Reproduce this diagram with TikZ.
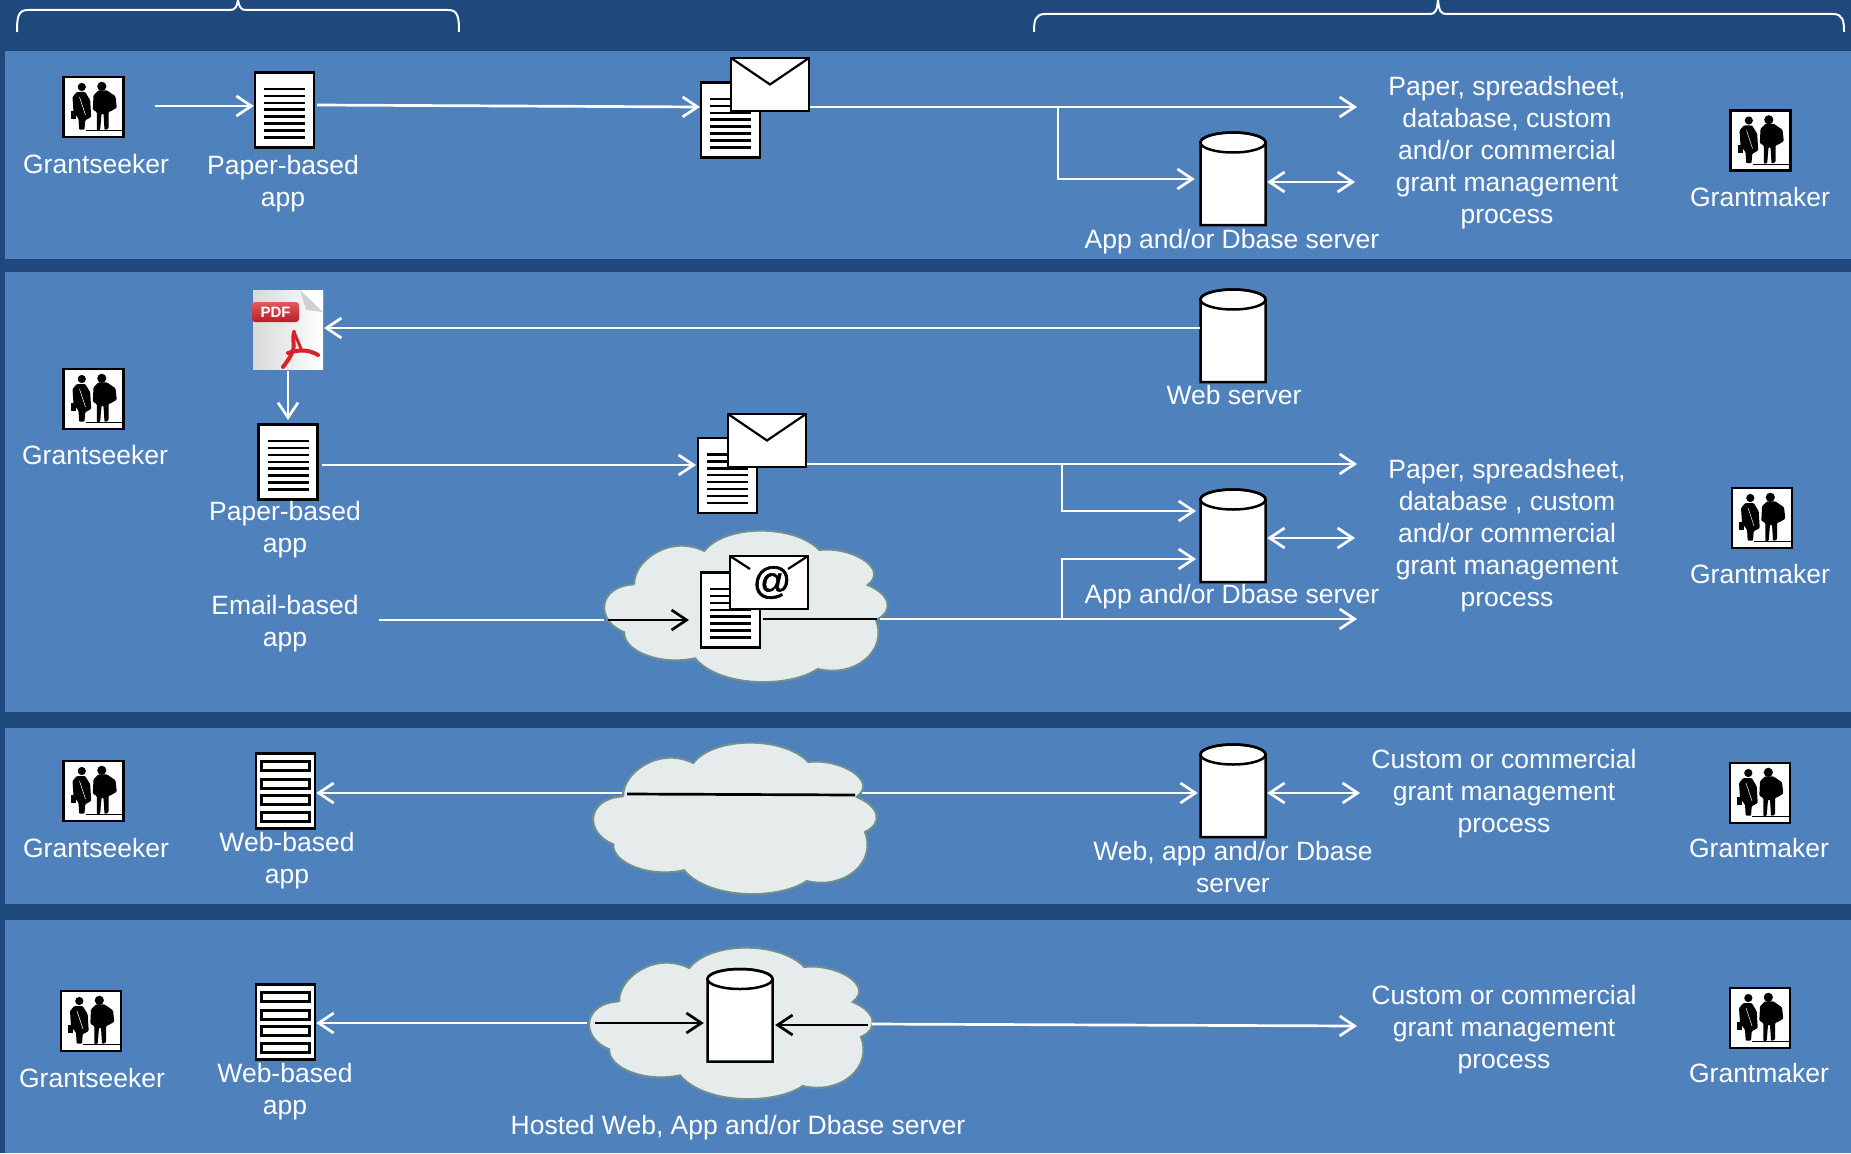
\documentclass[tikz,border=0pt]{standalone}
\usepackage{fontspec}
\setmainfont{Liberation Sans}
\newfontfamily\atfont[FakeBold=1.5]{Liberation Sans}
\usetikzlibrary{arrows.meta}
\definecolor{deepblue}{HTML}{1F497D}
\definecolor{panelblue}{HTML}{4F81BD}
\definecolor{cloudfill}{HTML}{E6EBEB}
\definecolor{cloudedge}{HTML}{6F9090}
\definecolor{pdfred}{HTML}{D8232A}
\tikzset{
  caption/.style={text=white, align=center, inner sep=0pt, font=\fontsize{26.5}{32}\selectfont},
  bracket/.style={draw=white, line width=2},
  flowline/.style={draw=white, line width=2.7, >={Straight Barb[length=15pt,width=20pt]}},
  inkline/.style={draw=black, line width=2.7, >={Straight Barb[length=15pt,width=20pt]}},
  peoplebox/.style={rectangle, draw=black, fill=white, line width=2.5, minimum width=60, minimum height=60, inner sep=0pt},
  paperdoc/.style={rectangle, draw=black, fill=white, line width=2.5, minimum width=59, minimum height=75, inner sep=0pt,
    path picture={\foreach \rowpos in {-21,-14.1,-7.2,-0.3,6.6,13.5,20.4,27.3}
      \draw[line width=2.4] ([shift={(-20.5,\rowpos)}]path picture bounding box.center) -- ++(41,0);}},
  webdoc/.style={rectangle, draw=black, fill=white, line width=2.5, minimum width=59, minimum height=75, inner sep=0pt,
    path picture={\foreach \rowpos in {-25,-7,9,26}
      \draw[line width=2.5] ([shift={(-24,\rowpos-4.5)}]path picture bounding box.center) rectangle ++(48,9);}},
  mailenv/.style={rectangle, draw=black, fill=white, line width=2.5, minimum width=78, minimum height=53, inner sep=0pt,
    path picture={\draw[line width=2.2] (path picture bounding box.north west) -- (path picture bounding box.center) -- (path picture bounding box.north east);}},
  atenv/.style={rectangle, draw=black, fill=white, line width=2.5, minimum width=78, minimum height=53, inner sep=0pt,
    font=\fontsize{38}{38}\selectfont\atfont,
    path picture={\draw[line width=2.2] (path picture bounding box.north west) -- ++(20,13);
      \draw[line width=2.2] (path picture bounding box.north east) -- ++(-20,13);}},
  storedrum/.style={rectangle, minimum width=66, minimum height=94, inner sep=0pt},
  pdfsheet/.style={rectangle, minimum width=70, minimum height=79, inner sep=0pt, left color=black!15, right color=white},
  pdftag/.style={rectangle, rounded corners=3, top color=pdfred!75!white, bottom color=pdfred!85!black, text=white, minimum width=47, minimum height=20, inner sep=0pt,
    font=\fontsize{15}{15}\selectfont\bfseries},
  pics/drum/.style={code={
    \draw[fill=white, line width=2.5] (-32.5,-36.5) -- (-32.5,46) -- (32.5,46) -- (32.5,-36.5) arc[start angle=0, end angle=-180, x radius=32.5, y radius=10] -- cycle;
    \draw[line width=2.5] (0,-36.5) ellipse [x radius=32.5, y radius=10];
  }},
  pics/couple/.style={code={
    \fill[black] (8.3,-20.7) circle (4.6);
    \fill[black] (-11.7,-20) circle (4.1);
    \fill[black, rounded corners=1] (0,-11.7) -- (5,-16.7) -- (13.3,-16.7) -- (22,-10.7) -- (23.3,0.7) -- (17.7,4) -- (15,5) -- (15,21.7) -- (11,23) -- (10,6.7) -- (8,6.7) -- (6.7,22.7) -- (3.3,23.3) -- (3.3,5) -- (-0.7,2.7) -- cycle;
    \fill[black, rounded corners=1] (-16.7,-15) -- (-8.3,-15) -- (-3.3,-6.7) -- (-2.3,10) -- (-8.3,13.3) -- (-9,22.7) -- (-14.3,22.7) -- (-15,11.7) -- (-20,5) -- (-21,-10) -- cycle;
    \fill[black] (-23,4) rectangle (-18,12);
    \draw[white, line width=0.5] (-14,-10) -- (-8,8);
    \draw[black, line width=1] (-8,23.8) -- (29,23.8);
  }},
  pics/cloudblob/.style={code={
    \draw[fill=cloudfill, draw=cloudedge, line width=2] (-110.7,-21.7) .. controls (-112,-45) and (-75,-72) .. (-40.7,-55)
      .. controls (-20,-82) and (50,-82) .. (74.3,-56) .. controls (105,-60) and (145,-38) .. (122.7,-21)
      .. controls (145,-12) and (150,5) .. (131,14) .. controls (143,45) and (110,72) .. (72.7,63)
      .. controls (45,82) and (-25,82) .. (-50,52.3) .. controls (-85,60) and (-122,45) .. (-120.7,26.3)
      .. controls (-150,15) and (-148,-20) .. (-110.7,-21.7);
  }}
}
\begin{document}
\begin{tikzpicture}[x=1pt,y=-1pt]
\useasboundingbox (0,0) rectangle (1851,1153);
\fill[deepblue] (0,0) rectangle (1851,1153);
\fill[panelblue] (5,51) rectangle (1851,259);
\fill[panelblue] (5,272) rectangle (1851,712);
\fill[panelblue] (5,728) rectangle (1851,904);
\fill[panelblue] (5,920) rectangle (1851,1153);
\draw[bracket] (17,32) .. controls (17,17) and (18,10) .. (28,10) -- (230,10) .. controls (235,10) and (237,7) .. (238,0) .. controls (239,7) and (241,10) .. (246,10) -- (448,10) .. controls (458,10) and (459,17) .. (459,32);
\draw[bracket] (1034,32) .. controls (1034,21) and (1035,14) .. (1045,14) -- (1430,14) .. controls (1435,14) and (1437,11) .. (1438,0) .. controls (1439,11) and (1441,14) .. (1446,14) -- (1833,14) .. controls (1843,14) and (1844,21) .. (1844,32);
\pic at (745,606) {cloudblob};
\pic at (734,818) {cloudblob};
\pic at (730,1023) {cloudblob};
\node[peoplebox] (seeker0) at (93.5,107){};
\pic at (seeker0) {couple};
\node[caption] (seekertext0) at (96,164){Grantseeker};
\node[paperdoc] (paper0) at (284.5,110){};
\node[caption] (papertext0) at (283,184){Paper-based\\app};
\node[paperdoc] (maildoc0) at (730.5,120){};
\node[mailenv] (mail0) at (770,84.5){};
\node[storedrum] (store0) at (1233,179){};
\pic at (store0) {drum};
\node[caption] (storetext0) at (1232,242){App and/or Dbase server};
\node[caption] (process0) at (1507,152.5){Paper, spreadsheet,\\database, custom\\and/or commercial\\grant management\\process};
\node[peoplebox] (maker0) at (1760.5,140.5){};
\pic at (maker0) {couple};
\node[caption] (makertext0) at (1760,197){Grantmaker};
\coordinate (start0) at (155,106);
\coordinate (out0) at (317,105);
\coordinate (in0) at (700,107);
\coordinate (end0) at (1357,107);
\coordinate (fork0) at (1058,107);
\coordinate (end1) at (1355,182);
\draw[flowline,->] (start0) -- (paper0.west |- start0);
\draw[flowline,->] (out0) -- (in0);
\draw[flowline,->] (mail0.east |- end0) -- (end0);
\draw[flowline,->,shorten >=5pt] (fork0) |- (store0.180);
\draw[flowline,<->,shorten <=1pt] (store0.0 |- end1) -- (end1);
\node[peoplebox] (seeker1) at (93.5,399){};
\pic at (seeker1) {couple};
\node[caption] (seekertext1) at (95,455){Grantseeker};
\node[pdfsheet] (pdf1) at (288,329.5){};
\fill[white] (300,290) -- (323,290) -- (323,312) -- cycle;
\fill[black!18] (300,290) -- (323,312) -- (306,310) -- cycle;
\node[pdftag] (pdftag1) at (275.5,312){PDF};
\draw[pdfred, line width=4, line cap=round] (294,332) .. controls (291,345) and (300,345) .. (283,367);
\draw[pdfred, line width=4, line cap=round] (288,353) .. controls (300,349) and (310,350) .. (318,355);
\draw[pdfred, line width=3, line cap=round] (294,332) -- (302,351);
\node[storedrum] (web1) at (1233,336){};
\pic at (web1) {drum};
\node[caption] (webtext1) at (1234,395){Web server};
\node[paperdoc] (paper1) at (288,462){};
\node[caption] (papertext1) at (285,529.5){Paper-based\\app};
\node[paperdoc] (maildoc1) at (727.5,475.5){};
\node[mailenv] (mail1) at (767,440.5){};
\node[caption] (emailtext1) at (285,624){Email-based\\app};
\coordinate (pdfin1) at (324,328);
\coordinate (emailstart1) at (379,620);
\coordinate (cloudin1) at (604,620);
\coordinate (cloudink1) at (608,620);
\coordinate (inkhead1) at (689,620);
\node[paperdoc] (maildoc2) at (730.5,610){};
\node[atenv] (mail2) at (769,582.5){\hspace*{6pt}@};
\node[storedrum] (store1) at (1233,536){};
\pic at (store1) {drum};
\node[caption] (storetext1) at (1232,597){App and/or Dbase server};
\node[caption] (process1) at (1507,536){Paper, spreadsheet,\\database , custom\\and/or commercial\\grant management\\process};
\node[peoplebox] (maker1) at (1762,518){};
\pic at (maker1) {couple};
\node[caption] (makertext1) at (1760,574){Grantmaker};
\coordinate (end2) at (1357,464);
\coordinate (end3) at (1357,619);
\coordinate (end4) at (1355,538);
\coordinate (fork1) at (1062,464);
\coordinate (fork2) at (1062,619);
\coordinate (inkstop1) at (877,619);
\coordinate (cloudout1) at (880,619);
\draw[flowline,->] (web1.180 |- pdfin1) -- (pdfin1);
\draw[flowline,->,shorten <=1pt] (pdf1) ++(0,40.5) -- (288,420);
\draw[flowline,->] (paper1.east |- 0,465) ++(3,0) -- (696,465);
\draw[flowline,->] (mail1.east |- end2) -- (end2);
\draw[flowline,->,shorten >=2pt] (fork1) |- (1198,511);
\draw[flowline,->,shorten >=2pt] (fork2) |- (1198,559);
\draw[flowline,<->,shorten <=1pt] (store1.0 |- end4) -- (end4);
\draw[flowline] (emailstart1) -- (cloudin1);
\draw[inkline,->] (cloudink1) -- (inkhead1);
\draw[inkline] (maildoc2.east |- inkstop1) ++(2,0) -- (inkstop1);
\draw[flowline,->] (cloudout1) -- (end3);
\node[peoplebox] (seeker2) at (93.5,791){};
\pic at (seeker2) {couple};
\node[caption] (seekertext2) at (96,848){Grantseeker};
\node[webdoc] (app2) at (285.5,791){};
\node[caption] (apptext2) at (287,861){Web-based\\app};
\node[storedrum] (store2) at (1233,791){};
\pic at (store2) {drum};
\node[caption] (storetext2) at (1233,867){Web, app and/or Dbase\\server};
\node[caption] (process2) at (1504,794){Custom or commercial\\grant management\\process};
\node[peoplebox] (maker2) at (1760,793){};
\pic at (maker2) {couple};
\node[caption] (makertext2) at (1759,848){Grantmaker};
\coordinate (cloudleft2) at (622,793);
\coordinate (inkleft2) at (627,794);
\coordinate (inkright2) at (855,795);
\coordinate (cloudright2) at (862,793);
\coordinate (end5) at (1360,793);
\draw[flowline,->] (cloudleft2) -- (app2.east |- cloudleft2);
\draw[inkline] (inkleft2) -- (inkright2);
\draw[flowline,->,shorten >=2pt] (cloudright2) -- (store2.180 |- cloudright2);
\draw[flowline,<->,shorten <=1pt] (store2.0 |- end5) -- (end5);
\node[peoplebox] (seeker3) at (91,1021){};
\pic at (seeker3) {couple};
\node[caption] (seekertext3) at (92,1078){Grantseeker};
\node[webdoc] (app3) at (285.5,1022){};
\node[caption] (apptext3) at (285,1092){Web-based\\app};
\node[storedrum] (host3) at (740,1015.5){};
\pic at (host3) {drum};
\node[caption] (hosttext3) at (738,1128){Hosted Web, App and/or Dbase server};
\node[caption] (process3) at (1504,1030){Custom or commercial\\grant management\\process};
\node[peoplebox] (maker3) at (1760,1018){};
\pic at (maker3) {couple};
\node[caption] (makertext3) at (1759,1073){Grantmaker};
\coordinate (cloudleft3) at (587,1023);
\coordinate (inkleft3) at (595,1023);
\coordinate (inkright3) at (868,1025);
\coordinate (cloudright3) at (872,1024);
\coordinate (end6) at (1357,1026);
\draw[flowline,->] (cloudleft3) -- (app3.east |- cloudleft3);
\draw[inkline,->,shorten >=3pt] (inkleft3) -- (host3.180 |- inkleft3);
\draw[inkline,->,shorten >=2pt] (inkright3) -- (host3.0 |- inkright3);
\draw[flowline,->] (cloudright3) -- (end6);
\end{tikzpicture}
\end{document}
